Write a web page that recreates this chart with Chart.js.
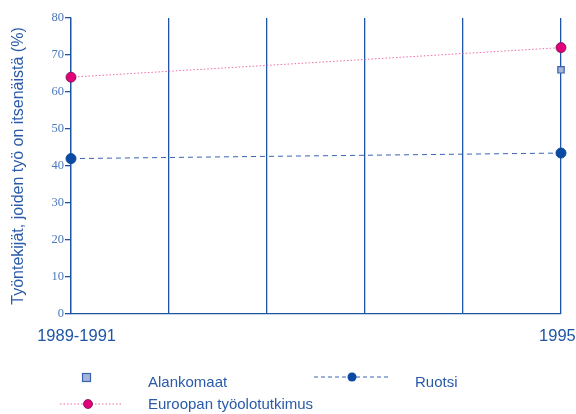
<!DOCTYPE html>
<html>
<head>
<meta charset="utf-8">
<script src="https://cdn.jsdelivr.net/npm/chart.js@4/dist/chart.umd.min.js"></script>
<style>
  body { margin: 0; background: #fff; }
  #wrap { position: relative; width: 576px; height: 414px; }
  canvas { position: absolute; left: 0; top: 0; }
  .lg { position: absolute; font: 15px "Liberation Sans", Arial, sans-serif; color: #2a5aa8; white-space: nowrap; }
  svg { position: absolute; }
</style>
</head>
<body>
<div id="wrap">
  <canvas id="chart" width="576" height="414"></canvas>
  <!-- 凡例はHTMLで手組み -->
  <svg style="left:81px;top:372px" width="12" height="12"><rect x="1.5" y="1.5" width="8" height="8" fill="#a6b4da" stroke="#3a62b0" stroke-width="1.2"/></svg>
  <div class="lg" style="left:148px;top:373px">Alankomaat</div>
  <svg style="left:312px;top:370px" width="80" height="14"><line x1="2" y1="7" x2="78" y2="7" stroke="#3a62b0" stroke-width="1" stroke-dasharray="4,3"/><circle cx="40" cy="7" r="4.5" fill="#0b4aa2"/></svg>
  <div class="lg" style="left:415px;top:373px">Ruotsi</div>
  <svg style="left:58px;top:397px" width="66" height="14"><line x1="2" y1="7" x2="64" y2="7" stroke="#ee6aa8" stroke-width="1" stroke-dasharray="1.5,2"/><circle cx="30" cy="7" r="4.5" fill="#e0007a" stroke="#7a1050" stroke-width="0.8"/></svg>
  <div class="lg" style="left:148px;top:395px">Euroopan työolotutkimus</div>
</div>
<script>
// x軸の目盛り（中間の縦線はラベルなし）
const tickLabels = ['1989-1991', '', '', '', '', '1995'];
// 各系列の x 位置（目盛り番号）と値
const ruotsiX = [0, 5];
const ruotsiValues = [42, 43.5];
const euroX = [0, 5];
const euroValues = [64, 72];
const alankomaatX = [5];
const alankomaatValues = [66];

const axisBlue = '#1f55a6';
const toPoints = (xs, ys) => xs.map((x, i) => ({ x: x, y: ys[i] }));

// 端のラベルが切れないように空白で少しずらす
const nb = '\u00a0\u00a0';
const padLabel = (v) => {
    const t = tickLabels[v] || '';
    if (v === 0) return nb + t;
    if (v === tickLabels.length - 1) return t + nb;
    return t;
};

const ctx = document.getElementById('chart').getContext('2d');
new Chart(ctx, {
    type: 'scatter',
    data: {
        datasets: [
            {
                label: 'Euroopan työolotutkimus',
                data: toPoints(euroX, euroValues),
                showLine: true,
                borderColor: '#ee6aa8',
                borderWidth: 1,
                borderDash: [1.5, 2],
                pointRadius: 5,
                pointBackgroundColor: '#e0007a',
                pointBorderColor: '#7a1050',
                pointBorderWidth: 0.8,
                clip: false
            },
            {
                label: 'Ruotsi',
                data: toPoints(ruotsiX, ruotsiValues),
                showLine: true,
                borderColor: '#3a62b0',
                borderWidth: 1,
                borderDash: [5, 4],
                pointRadius: 5,
                pointBackgroundColor: '#0b4aa2',
                pointBorderColor: '#0b4aa2',
                clip: false
            },
            {
                label: 'Alankomaat',
                data: toPoints(alankomaatX, alankomaatValues),
                showLine: false,
                pointStyle: 'rect',
                pointRadius: 4.5,
                pointBackgroundColor: '#a6b4da',
                pointBorderColor: '#3a62b0',
                pointBorderWidth: 1.2,
                clip: false
            }
        ]
    },
    options: {
        responsive: false,
        animation: false,
        layout: { padding: { left: 9, right: 15, top: 18, bottom: 0 } },
        plugins: { legend: { display: false }, tooltip: { enabled: false } },
        scales: {
            x: {
                type: 'linear',
                min: 0,
                max: 5,
                grid: { color: axisBlue, lineWidth: 1.3, drawTicks: false },
                border: { color: axisBlue, width: 1.3 },
                ticks: {
                    stepSize: 1,
                    padding: 13,
                    autoSkip: false,
                    maxRotation: 0,
                    labelOffset: 1,
                    color: '#1f55a6',
                    font: { family: '"Liberation Sans", Arial, sans-serif', size: 16.5 },
                    callback: (v) => padLabel(v)
                },
                afterFit: (scale) => {
                    scale.height = 100;
                    scale.paddingLeft = 0;
                    scale.paddingRight = 0;
                }
            },
            y: {
                min: 0,
                max: 80,
                grid: { drawOnChartArea: false, drawTicks: true, tickLength: 6, color: axisBlue, lineWidth: 1.3 },
                border: { color: axisBlue, width: 1.3 },
                ticks: {
                    stepSize: 10,
                    padding: 1,
                    color: '#4a78bc',
                    font: { family: '"Liberation Serif", "Times New Roman", serif', size: 12.5 }
                },
                title: {
                    display: true,
                    text: 'Työntekijät, joiden työ on itsenäistä (%)',
                    color: '#2a5aa8',
                    padding: 0,
                    font: { family: '"Liberation Sans", Arial, sans-serif', size: 16 }
                },
                afterFit: (scale) => { scale.width = 62; }
            }
        }
    }
});
</script>
</body>
</html>
